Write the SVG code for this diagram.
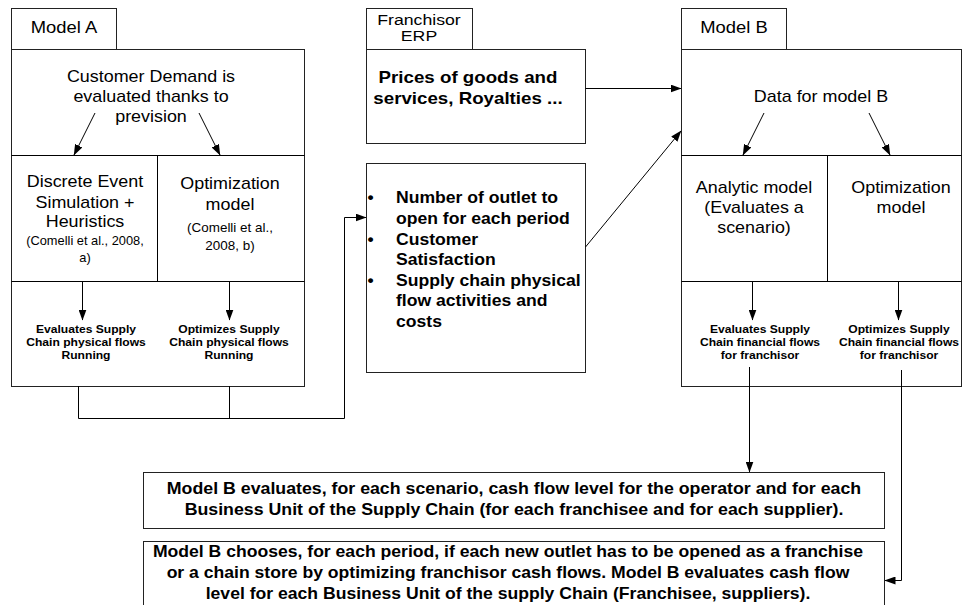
<svg xmlns="http://www.w3.org/2000/svg" width="962" height="605" viewBox="0 0 962 605">
<defs>
<marker id="ah" markerWidth="11" markerHeight="8" refX="10.5" refY="4" orient="auto" markerUnits="userSpaceOnUse">
<path d="M0,0 L11,4 L0,8 z" fill="#000"/>
</marker>
<style>
.box{fill:#fff;stroke:#222;stroke-width:1}
.ln{fill:none;stroke:#000;stroke-width:1}
text{font-family:"Liberation Sans",Arial,sans-serif;fill:#000}
.n{font-size:16px;text-anchor:middle}
.s{font-size:12px;text-anchor:middle}
.b{font-size:16px;font-weight:bold;text-anchor:middle}
.bl{font-size:16px;font-weight:bold}
.sb{font-size:11px;font-weight:bold;text-anchor:middle}
.t{font-size:15px;text-anchor:middle}
</style>
</defs>
<rect width="962" height="605" fill="#fff"/>

<g id="modelA">
<rect class="box" x="11.5" y="8.5" width="105" height="41"/>
<rect class="box" x="11.5" y="49.5" width="293" height="337"/>
<line class="ln" x1="11.5" y1="155.5" x2="304.5" y2="155.5"/>
<line class="ln" x1="157.5" y1="155.5" x2="157.5" y2="281.5"/>
<line class="ln" x1="11.5" y1="281.5" x2="304.5" y2="281.5"/>
<g transform="translate(64 0) scale(1.15 1)"><text class="n" x="0" y="33">Model A</text></g>
<g transform="translate(151 0) scale(1.12 1)">
<text class="n" x="0" y="82">Customer Demand is</text>
<text class="n" x="0" y="102">evaluated thanks to</text>
<text class="n" x="0" y="122">prevision</text>
</g>
<g transform="translate(85 0) scale(1.12 1)">
<text class="n" x="0" y="187">Discrete Event</text>
<text class="n" x="0" y="208">Simulation +</text>
<text class="n" x="0" y="227">Heuristics</text>
</g>
<g transform="translate(85 0) scale(1.07 1)">
<text class="s" x="0" y="245">(Comelli et al., 2008,</text>
<text class="s" x="0" y="262">a)</text>
</g>
<g transform="translate(230 0) scale(1.12 1)">
<text class="n" x="0" y="189">Optimization</text>
<text class="n" x="0" y="210">model</text>
</g>
<g transform="translate(230 0) scale(1.12 1)">
<text class="s" x="0" y="232">(Comelli et al.,</text>
<text class="s" x="0" y="250">2008, b)</text>
</g>
<g transform="translate(86 0) scale(1.1 1)">
<text class="sb" x="0" y="333">Evaluates  Supply</text>
<text class="sb" x="0" y="346">Chain physical flows</text>
<text class="sb" x="0" y="359">Running</text>
</g>
<g transform="translate(229 0) scale(1.1 1)">
<text class="sb" x="0" y="333">Optimizes Supply</text>
<text class="sb" x="0" y="346">Chain physical flows</text>
<text class="sb" x="0" y="359">Running</text>
</g>
</g>

<g id="erp">
<rect class="box" x="366.5" y="8.5" width="106" height="41"/>
<rect class="box" x="366.5" y="49.5" width="219" height="94"/>
<g transform="translate(419 0) scale(1.18 1)">
<text class="t" x="0" y="25">Franchisor</text>
<text class="t" x="0" y="41">ERP</text>
</g>
<g transform="translate(468 0) scale(1.17 1)">
<text class="b" x="0" y="83">Prices of goods and</text>
<text class="b" x="0" y="104">services, Royalties ...</text>
</g>
</g>

<g id="outputs">
<rect class="box" x="366.5" y="163.5" width="219" height="209"/>
<g transform="translate(396 0) scale(1.1 1)">
<text class="bl" x="-26" y="203">•</text>
<text class="bl" x="0" y="203">Number of outlet to</text>
<text class="bl" x="0" y="224">open for each period</text>
<text class="bl" x="-26" y="245">•</text>
<text class="bl" x="0" y="245">Customer</text>
<text class="bl" x="0" y="265">Satisfaction</text>
<text class="bl" x="-26" y="286">•</text>
<text class="bl" x="0" y="286">Supply chain physical</text>
<text class="bl" x="0" y="306">flow activities and</text>
<text class="bl" x="0" y="327">costs</text>
</g>
</g>

<g id="modelB">
<rect class="box" x="681.5" y="8.5" width="105" height="41"/>
<rect class="box" x="681.5" y="49.5" width="280" height="337"/>
<line class="ln" x1="681.5" y1="155.5" x2="961.5" y2="155.5"/>
<line class="ln" x1="827.5" y1="155.5" x2="827.5" y2="281.5"/>
<line class="ln" x1="681.5" y1="281.5" x2="961.5" y2="281.5"/>
<g transform="translate(734 0) scale(1.15 1)"><text class="n" x="0" y="33">Model B</text></g>
<g transform="translate(821 0) scale(1.12 1)"><text class="n" x="0" y="102">Data for model B</text></g>
<g transform="translate(754 0) scale(1.12 1)">
<text class="n" x="0" y="193">Analytic model</text>
<text class="n" x="0" y="213">(Evaluates a</text>
<text class="n" x="0" y="233">scenario)</text>
</g>
<g transform="translate(901 0) scale(1.12 1)">
<text class="n" x="0" y="193">Optimization</text>
<text class="n" x="0" y="213">model</text>
</g>
<g transform="translate(760 0) scale(1.1 1)">
<text class="sb" x="0" y="333">Evaluates  Supply</text>
<text class="sb" x="0" y="346">Chain financial flows</text>
<text class="sb" x="0" y="359">for franchisor</text>
</g>
<g transform="translate(899 0) scale(1.1 1)">
<text class="sb" x="0" y="333">Optimizes Supply</text>
<text class="sb" x="0" y="346">Chain financial flows</text>
<text class="sb" x="0" y="359">for franchisor</text>
</g>
</g>

<g id="result1">
<rect class="box" x="143.5" y="472.5" width="741" height="56"/>
<g transform="translate(514 0) scale(1.11 1)">
<text class="b" x="0" y="494">Model B evaluates, for each scenario, cash flow level for the operator and for each</text>
<text class="b" x="0" y="515">Business Unit of the Supply Chain (for each franchisee and for each supplier).</text>
</g>
</g>

<g id="result2">
<rect class="box" x="143.5" y="541.5" width="741" height="80"/>
<g transform="translate(508 0) scale(1.1 1)">
<text class="b" x="0" y="557">Model B chooses, for each period, if each new outlet has to be opened as a franchise</text>
<text class="b" x="0" y="578">or a chain store by optimizing franchisor cash flows. Model B evaluates cash flow</text>
<text class="b" x="0" y="599">level for each Business Unit of the supply Chain (Franchisee, suppliers).</text>
</g>
</g>

<g id="connectors">
<line class="ln" x1="95" y1="113" x2="74" y2="155" marker-end="url(#ah)"/>
<line class="ln" x1="199" y1="113" x2="220" y2="155" marker-end="url(#ah)"/>
<line class="ln" x1="82.5" y1="281" x2="82.5" y2="320" marker-end="url(#ah)"/>
<line class="ln" x1="229.5" y1="281" x2="229.5" y2="320" marker-end="url(#ah)"/>
<polyline class="ln" points="78.5,386 78.5,418.5 344.5,418.5 344.5,217.5 366,217.5" marker-end="url(#ah)"/>
<line class="ln" x1="229.5" y1="386" x2="229.5" y2="418.5"/>
<line class="ln" x1="585.5" y1="88.5" x2="681" y2="88.5" marker-end="url(#ah)"/>
<line class="ln" x1="585.5" y1="247" x2="681" y2="131" marker-end="url(#ah)"/>
<line class="ln" x1="764" y1="113" x2="743" y2="155" marker-end="url(#ah)"/>
<line class="ln" x1="869" y1="113" x2="890" y2="155" marker-end="url(#ah)"/>
<line class="ln" x1="752.5" y1="281" x2="752.5" y2="320" marker-end="url(#ah)"/>
<line class="ln" x1="898.5" y1="281" x2="898.5" y2="320" marker-end="url(#ah)"/>
<line class="ln" x1="749.5" y1="367" x2="749.5" y2="472" marker-end="url(#ah)"/>
<polyline class="ln" points="901.5,370 901.5,580.5 885,580.5" marker-end="url(#ah)"/>
</g>
</svg>
